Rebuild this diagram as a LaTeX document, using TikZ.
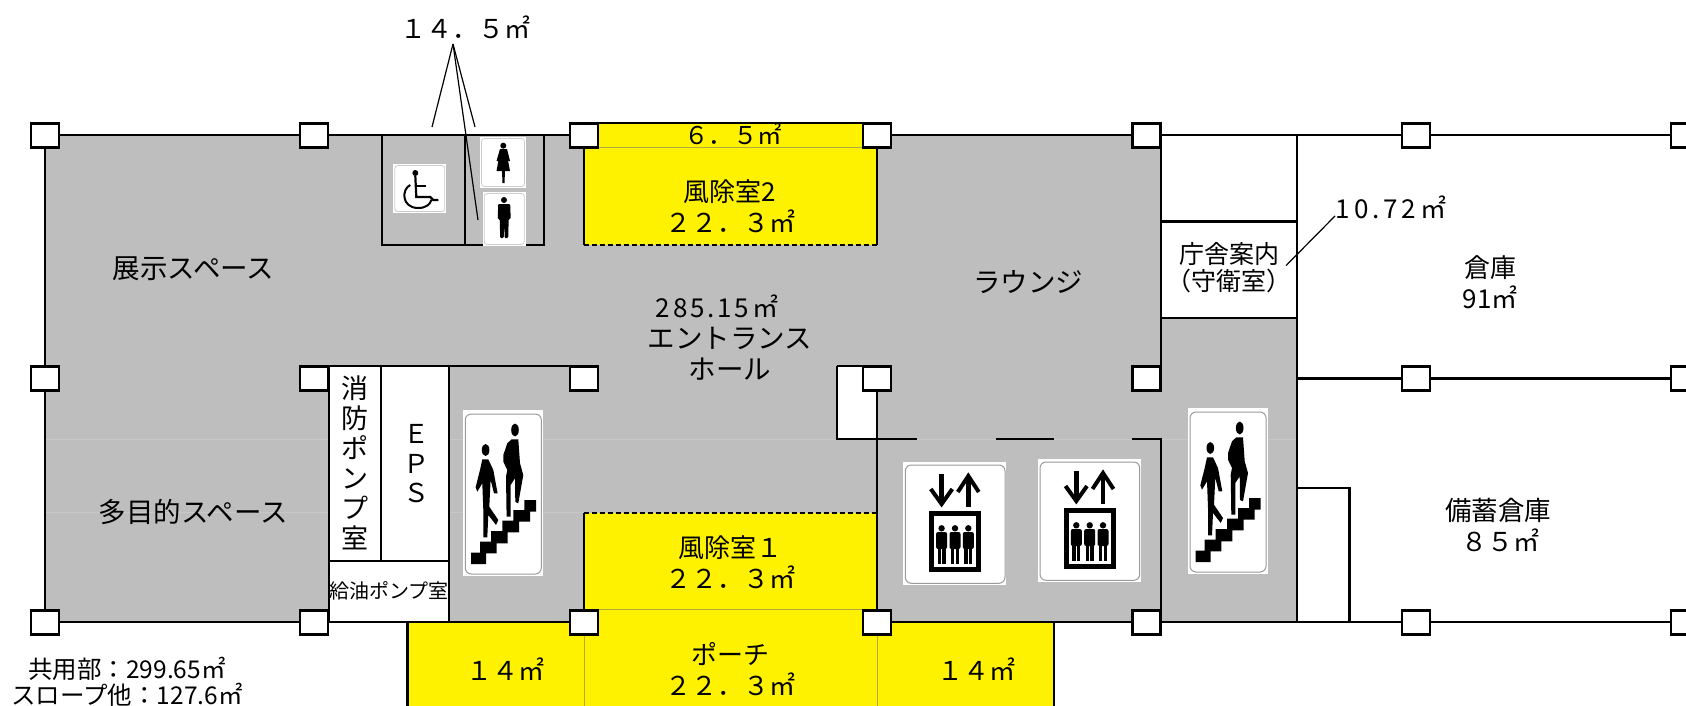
\documentclass[tikz,border=0pt]{standalone}
\usepackage{fontspec}
\setmainfont{Noto Sans CJK JP}
\definecolor{floorgray}{HTML}{BEBEBE}
\definecolor{floorseam}{HTML}{C8C8C8}
\definecolor{signline}{HTML}{9A9A9A}
\tikzset{
    wall/.style={line width=2.3pt},
    pillar/.style={draw, fill=white, line width=2.3pt, rectangle, minimum width=28pt, minimum height=24pt, inner sep=0pt},
    lbl/.style={inner sep=0pt, align=center, font=\fontsize{26}{31}\selectfont},
    lblbig/.style={inner sep=0pt, align=center, font=\fontsize{27.5}{31}\selectfont},
    lblsmall/.style={inner sep=0pt, align=center, font=\fontsize{24.5}{27}\selectfont},
    leader/.style={line width=1.2pt},
    entrydash/.style={line width=2pt, dash pattern=on 5pt off 3pt},
    seam/.style={black!35!yellow, line width=0.8pt},
    stairsign/.pic={
        \fill[white] (0,0) rectangle (80,166);
        \draw[signline, line width=1pt, rounded corners=6pt] (2,4) rectangle (78,164);
        \fill (7.7,154) -- (7.7,142.7) -- (16.7,142.7) -- (16.7,131.7) -- (27.7,131.7) -- (27.7,121) -- (39,121) -- (39,110.7) -- (50,110.7) -- (50,100) -- (61,100) -- (61,90) -- (72.7,90) -- (72.7,101.7) -- (66.7,101.7) -- (66.7,111.7) -- (55.7,111.7) -- (55.7,122.3) -- (44.3,122.3) -- (44.3,133.3) -- (33.3,133.3) -- (33.3,143.3) -- (22.7,143.3) -- (22.7,154) -- cycle;
        % rear walker
        \fill (22.3,40) ellipse (3.8 and 6);
        \fill (19,49.3) -- (25,49.3) -- (30,60) -- (34.3,83.3) -- (30.7,83.3) -- (27.3,70) -- (26,96.7) -- (35,110) -- (32.7,115) -- (25,105) -- (24,127.3) -- (20,127.3) -- (20,100) -- (19,73.3) -- (14,81.7) -- (12.3,77.3) -- (16.7,60) -- cycle;
        % front walker
        \fill (51.7,20) ellipse (3.8 and 6.5);
        \fill (48.3,29.3) -- (55,29.3) -- (56.7,53.3) -- (60,65) -- (55,93.3) -- (52,92) -- (51.7,68.3) -- (47.3,75) -- (47.3,106.7) -- (43.3,106.7) -- (42.7,66.7) -- (44,60) -- (40,51.7) -- (40,45) -- (44,33.3) -- cycle;
    },
    liftsign/.pic={
        \fill[white] (0,0) rectangle (103,123);
        \draw[signline, line width=1pt, rounded corners=6pt] (2,3) rectangle (101.7,121.3);
        \draw[line width=4.5pt] (38.3,12) -- (38.3,42);
        \draw[line width=4pt] (27.5,27) -- (38.3,42) -- (49,27);
        \draw[line width=4.5pt] (65,44.7) -- (65,14);
        \draw[line width=4pt] (54.5,30) -- (65,14) -- (75.5,30);
        \draw[line width=5pt] (28.5,51) rectangle (75,107);
        \foreach \px in {38.3,51.7,65} {
            \fill (\px,66.3) circle (3.2);
            \fill[rounded corners=2pt] (\px-5.5,70) rectangle (\px+5.5,87);
            \fill (\px-4,85) rectangle (\px-0.7,102);
            \fill (\px+0.7,85) rectangle (\px+4,102);
        }
    },
    ladysign/.pic={
        \fill[white] (0,0) rectangle (46,51);
        \draw[signline!50, line width=0.8pt, rounded corners=3pt] (1.5,1.5) rectangle (44.5,49.5);
        \fill (23.3,8.7) circle (3);
        \fill (20,12) -- (27,12) -- (30,24) -- (28.5,24) -- (27,18) -- (30,34) -- (25,34) -- (24.5,46) -- (22.5,46) -- (22,34) -- (16.5,34) -- (19.5,18) -- (18,24) -- (16.5,24) -- cycle;
    },
    mansign/.pic={
        \fill[white] (0,0) rectangle (43,54);
        \draw[signline!50, line width=0.8pt, rounded corners=3pt] (1.5,1.5) rectangle (41.5,52.5);
        \fill (21.3,8) circle (3);
        \fill[rounded corners=1pt] (15.5,12) -- (27.5,12) -- (28,27) -- (26,27) -- (25.5,46) -- (22,46) -- (21.5,31) -- (21,46) -- (17.5,46) -- (17,27) -- (15,27) -- cycle;
    },
    chairsign/.pic={
        \fill[white] (0,0) rectangle (53,49);
        \draw[signline!50, line width=0.8pt, rounded corners=3pt] (1.5,1.5) rectangle (51.5,47.5);
        \fill (22,9) circle (3);
        \draw[line width=2.2pt] (22,12) -- (23,33) -- (37,33) -- (40,36) -- (45,36);
        \draw[line width=2.2pt] (22.5,22) -- (33,22);
        \draw[line width=2pt] (17,21) .. controls (8,25) and (8,44) .. (25,44) .. controls (33,44) and (37,40) .. (38,36);
    }
}
\begin{document}
\begin{tikzpicture}[x=1pt, y=-1pt]
    \useasboundingbox (0,0) rectangle (1686,706);

    % floor areas
    \fill[floorgray] (45,135) rectangle (1161,622);
    \fill[floorgray] (1161,318) rectangle (1297,622);
    \draw[floorseam, line width=0.8pt] (45,439) -- (1297,439);
    \draw[floorseam, line width=0.8pt] (45,512.7) -- (584,512.7);
    \fill[white] (329,366) rectangle (449,622);
    \fill[white] (836.7,366) rectangle (877,439);
    \fill[yellow] (598,123) rectangle (863.5,148);
    \fill[yellow] (584,147) rectangle (877,245);
    \fill[yellow] (584,513) rectangle (877,623);
    \fill[yellow] (407.5,622) rectangle (1054,706);

    % thin lines on the yellow parts
    \draw[seam] (598,147) -- (863.5,147);
    \draw[seam] (584,609.5) -- (877,609.5);
    \draw[seam] (584,622) -- (584,706);
    \draw[seam] (877,622) -- (877,706);

    % outer walls
    \draw[wall] (598,123) -- (863.5,123);
    \draw[wall] (45,135) -- (598,135);
    \draw[wall] (863.5,135) -- (1686,135);
    \draw[wall] (45,135) -- (45,622) -- (584,622);
    \draw[wall] (877,622) -- (1686,622);
    \draw[wall] (407.5,622) -- (407.5,706);
    \draw[wall] (1054,622) -- (1054,706);

    % inner walls
    \draw[wall] (382,135) -- (382,245) -- (544,245) -- (544,135);
    \draw[wall] (465,135) -- (465,245);
    \draw[wall] (584,148) -- (584,245);
    \draw[wall] (877,148) -- (877,245);
    \draw[entrydash] (584,245) -- (877,245);
    \draw[entrydash] (584,513) -- (877,513);
    \draw[wall] (584,513) -- (584,610);
    \draw[wall] (300,366) -- (598,366);
    \draw[wall] (329,366) -- (329,622);
    \draw[wall] (381,366) -- (381,561);
    \draw[wall] (449,366) -- (449,622);
    \draw[wall] (329,561) -- (449,561);
    \draw[wall] (836.7,366) -- (836.7,439) -- (917,439);
    \draw[wall] (836.7,366) -- (877,366);
    \draw[wall] (877,378) -- (877,610);
    \draw[wall] (996,439) -- (1054,439);
    \draw[wall] (1132,439) -- (1161,439) -- (1161,622);
    \draw[wall] (1161,135) -- (1161,366);
    \draw[wall] (1161,221.5) -- (1297,221.5);
    \draw[wall] (1161,318) -- (1297,318);
    \draw[wall] (1297,135) -- (1297,622);
    \draw[wall] (1297,378.5) -- (1686,378.5);
    \draw[wall] (1297,488) -- (1349.5,488) -- (1349.5,622);

    % signs
    \pic at (393.3,164) {chairsign};
    \pic at (480,137) {ladysign};
    \pic at (482.7,192) {mansign};
    \pic at (463.3,410) {stairsign};
    \pic at (1188,408) {stairsign};
    \pic at (903.3,462) {liftsign};
    \pic at (1038,459) {liftsign};

    % pillars
    \node[pillar] (c11) at (45,135.5) {};
    \node[pillar] (c12) at (314,135.5) {};
    \node[pillar] (c13) at (584,135.5) {};
    \node[pillar] (c14) at (877,135.5) {};
    \node[pillar] (c15) at (1146.5,135.5) {};
    \node[pillar] (c16) at (1416,135.5) {};
    \node[pillar] (c17) at (1685,135.5) {};
    \node[pillar] (c21) at (45,378.5) {};
    \node[pillar] (c22) at (314,378.5) {};
    \node[pillar] (c23) at (584,378.5) {};
    \node[pillar] (c24) at (877,378.5) {};
    \node[pillar] (c25) at (1146.5,378.5) {};
    \node[pillar] (c26) at (1416,378.5) {};
    \node[pillar] (c27) at (1685,378.5) {};
    \node[pillar] (c31) at (45,622.5) {};
    \node[pillar] (c32) at (314,622.5) {};
    \node[pillar] (c33) at (584,622.5) {};
    \node[pillar] (c34) at (877,622.5) {};
    \node[pillar] (c35) at (1146.5,622.5) {};
    \node[pillar] (c36) at (1416,622.5) {};
    \node[pillar] (c37) at (1685,622.5) {};

    % labels
    \node[lbl] (wc) at (465,27) {１４．５㎡};
    \node[lblsmall] (strip) at (733,134) {６．５㎡};
    \node[lbl] (wind2) at (730,206.5) {風除室2\\２２．３㎡};
    \node[lblbig] (expo) at (193.5,269) {展示スペース};
    \node[lblbig] (multi) at (193.5,512) {多目的スペース};
    \node[lbl] (hallarea) at (717,306) {\addfontfeature{LetterSpace=11}285.15㎡};
    \node[lblbig] (hall) at (730,353.5) {エントランス\\ホール};
    \node[lblbig] (lounge) at (1028,282) {ラウンジ};
    \node[lbl, font=\fontsize{25}{27}\selectfont] (guard) at (1229,268) {庁舎案内\\（守衛室）};
    \node[lbl] (guardarea) at (1391,207.5) {\addfontfeature{LetterSpace=15}10.72㎡};
    \node[lbl] (store) at (1490,282) {倉庫\\91㎡};
    \node[lbl, font=\fontsize{26.5}{31}\selectfont] (reserve) at (1498,510) {備蓄倉庫};
    \node[lbl] (reservearea) at (1500,540) {８５㎡};
    \node[lbl, font=\fontsize{27}{30}\selectfont] (firepump) at (355,463) {消\\防\\ポ\\ン\\プ\\室};
    \node[lbl, font=\fontsize{26}{29.5}\selectfont] (eps) at (416,464) {Ｅ\\Ｐ\\Ｓ};
    \node[lbl, font=\fontsize{20}{24}\selectfont] (oilpump) at (389,591) {給油ポンプ室};
    \node[lbl] (wind1) at (730,562) {風除室１\\２２．３㎡};
    \node[lbl] (porch) at (730,669.5) {ポーチ\\２２．３㎡};
    \node[lbl] (rampl) at (505,669) {１４㎡};
    \node[lbl] (rampr) at (976,669) {１４㎡};
    \node[lblsmall] (common) at (127,669) {共用部：299.65㎡};
    \node[lblsmall] (slope) at (127,695) {スロープ他：127.6㎡};

    % leaders
    \coordinate (apex) at (453,44);
    \coordinate (wca) at (432,127);
    \coordinate (wcb) at (475,127);
    \coordinate (wcc) at (478,220);
    \coordinate (guardend) at (1286,265.6);
    \coordinate (guardtip) at (1335,216);
    \draw[leader] (apex) -- (wca);
    \draw[leader] (apex) -- (wcb);
    \draw[leader] (apex) -- (wcc);
    \draw[leader] (guardtip) -- (guardend);
\end{tikzpicture}
\end{document}
